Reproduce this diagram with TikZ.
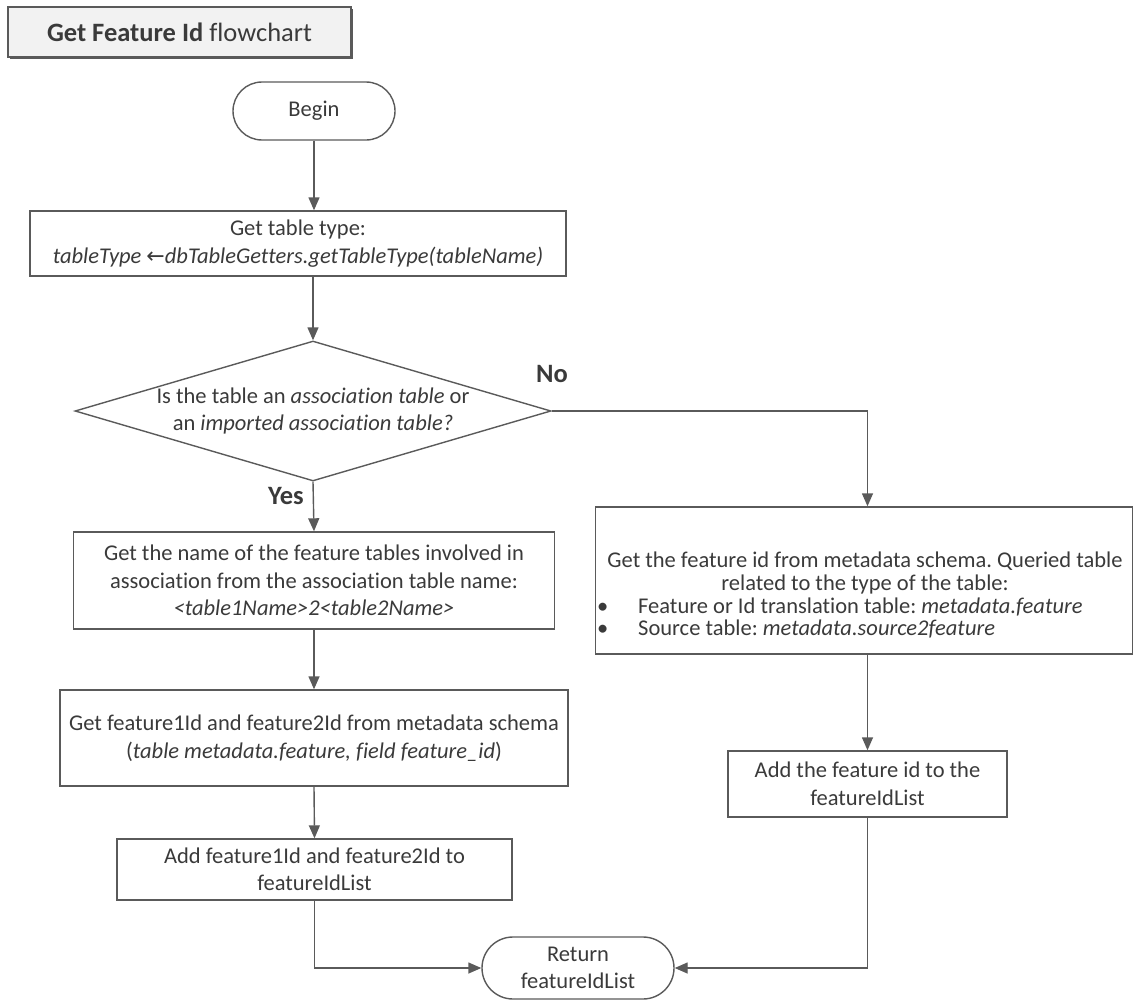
\documentclass[tikz,border=0pt]{standalone}
\usepackage{fontspec}
\setmainfont{Carlito}[Ligatures=NoCommon]
\newfontfamily\arrowfont{DejaVu Sans}
\usetikzlibrary{arrows.meta,shapes.geometric,shapes.misc,shadows}
\definecolor{linegray}{HTML}{5A5A5A}
\definecolor{textgray}{HTML}{3A3A3A}
\definecolor{titlefill}{HTML}{F2F2F2}
\newcommand{\bodyfont}{\fontsize{22.5}{27.5}\selectfont}
\newcommand{\labelfont}{\fontsize{26.5}{30}\selectfont\bfseries}
\frenchspacing

\begin{document}
\begin{tikzpicture}[x=1pt,y=-1pt,
  every node/.style={text=textgray},
  box/.style={draw=linegray, line width=1.4pt, rectangle, inner sep=0pt, align=center, font=\bodyfont},
  term/.style={draw=linegray, line width=1.4pt, rounded rectangle, inner sep=0pt, align=center, font=\bodyfont},
  decision/.style={draw=linegray, line width=1.4pt, diamond, inner sep=0pt},
  txt/.style={inner sep=0pt, align=center, font=\bodyfont},
  lbl/.style={inner sep=0pt, font=\labelfont},
  conn/.style={draw=linegray, line width=1.4pt, -{Triangle[length=13pt,width=11pt]}},
]
\useasboundingbox (0,0) rectangle (1133,1001);

% title
\node[draw=linegray, line width=1.4pt, fill=titlefill, inner sep=0pt,
      minimum width=343, minimum height=50,
      drop shadow={shadow xshift=1.6pt, shadow yshift=-1.6pt, fill=linegray, opacity=1},
      font={\fontsize{26.5}{30}\selectfont}] (title) at (179.5,32)
      {\textbf{Get Feature Id} flowchart};

% left column
\node[term, minimum width=162, minimum height=58] (begin) at (314,111) {Begin};

\node[box, minimum width=536, minimum height=65] (gettype) at (298,243.5)
  {Get table type:\\
   \textit{tableType} {\arrowfont\fontsize{22}{22}\selectfont ←}\textit{dbTableGetters.getTableType(tableName)}};

\node[decision, minimum width=476, minimum height=140] (isassoc) at (313,411) {};
\node[txt] (isassoctxt) at (isassoc.center)
  {Is the table an \textit{association table} or\\
   an \textit{imported association table?}};

\node[box, minimum width=481, minimum height=97] (names) at (314,580.5)
  {Get the name of the feature tables involved in\\
   association from the association table name:\\
   \textit{<table1Name>2<table2Name>}};

\node[box, minimum width=508, minimum height=96] (getids) at (314,738)
  {Get feature1Id and feature2Id from metadata schema\\
   (\textit{table metadata.feature, field feature\_id})};

\node[box, minimum width=395, minimum height=61] (addboth) at (314.5,869.5)
  {Add feature1Id and feature2Id to\\featureIdList};

% right column
\node[box, minimum width=537, minimum height=147] (fromschema) at (864,580.5) {};
\node[txt, anchor=base] (fs1) at (865,567) {Get the feature id from metadata schema. Queried table};
\node[txt, anchor=base] (fs2) at (865,590) {related to the type of the table:};
\node[txt, anchor=base west] (bul1) at (597,613) {\textbullet};
\node[txt, anchor=base west] (fs3) at (638,613) {Feature or Id translation table: \textit{metadata.feature}};
\node[txt, anchor=base west] (bul2) at (597,635) {\textbullet};
\node[txt, anchor=base west] (fs4) at (638,635) {Source table: \textit{metadata.source2feature}};

\node[box, minimum width=279, minimum height=66] (addone) at (867.5,784)
  {Add the feature id to the\\featureIdList};

\node[term, minimum width=192, minimum height=62] (return) at (578,968)
  {Return\\featureIdList};

% connectors
\draw[conn] (begin.south) -- (begin.south |- gettype.north);
\draw[conn] (isassoc.north |- gettype.south) -- (isassoc.north);
\draw[conn] (isassoc.south) -- (names.north);
\draw[conn] (names.south) -- (getids.north);
\draw[conn] (getids.south) -- (addboth.north);
\coordinate (nobend) at (addone.north |- isassoc.east);
\draw[conn] (isassoc.east) -- (nobend) -- (nobend |- fromschema.north);
\draw[conn] (addone.north |- fromschema.south) -- (addone.north);
\draw[conn] (addboth.south) |- (return.west);
\draw[conn] (addone.south) |- (return.east);

% branch labels
\node[lbl] (yes) at (286,496) {Yes};
\node[lbl] (no) at (552,374) {No};
\end{tikzpicture}
\end{document}
